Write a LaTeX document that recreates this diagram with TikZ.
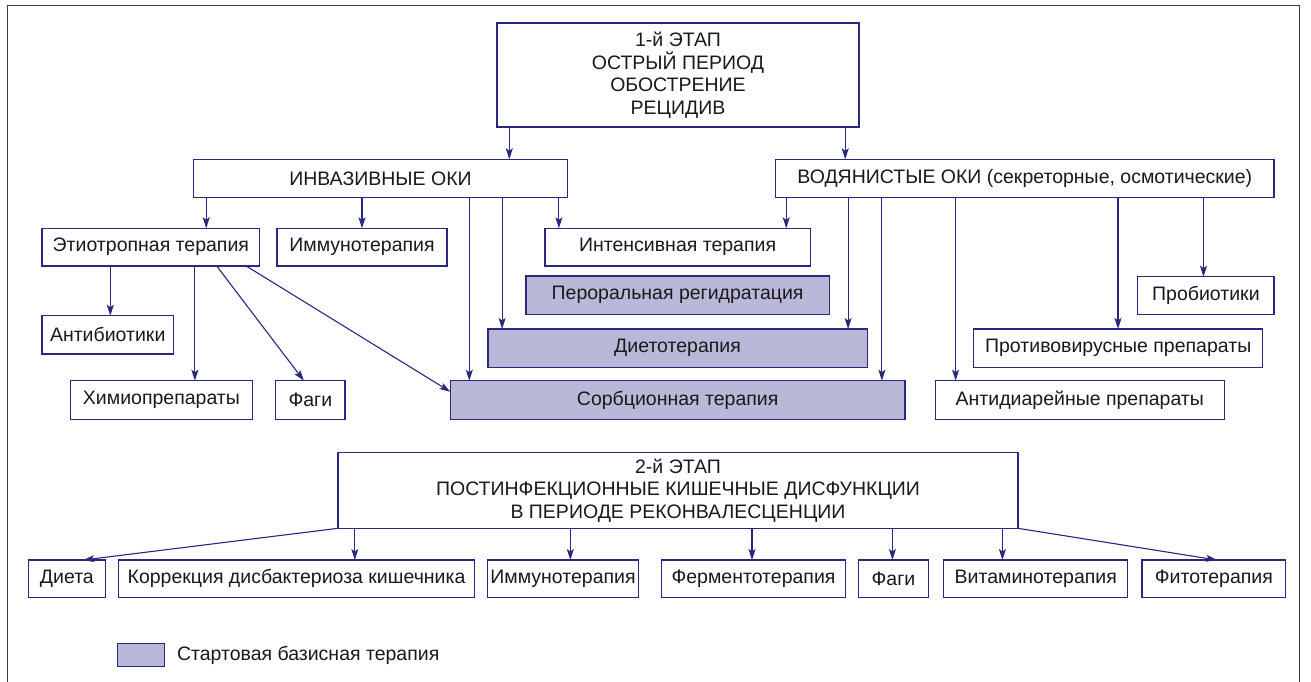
\documentclass[tikz,border=0pt]{standalone}
\usepackage{fontspec}
\setmainfont{Liberation Sans}
\usetikzlibrary{arrows.meta}
\definecolor{navy}{RGB}{40,40,125}
\definecolor{lav}{RGB}{186,184,216}
\definecolor{ink}{RGB}{25,25,25}
\definecolor{framec}{RGB}{60,60,60}
\newcommand{\mybox}[7]{\node[boxst,#6,minimum width={(#4)-(#2)},minimum height={(#5)-(#3)}] (#1) at ({((#2)+(#4))/2},{((#3)+(#5))/2}) {#7};}
\tikzset{
  txt/.style={text=ink,font=\fontsize{19.5}{22.5}\selectfont},
  boxst/.style={draw=navy,line width=1.1pt,inner sep=0pt,outer sep=0pt,txt,fill=white,align=center},
  shaded/.style={fill=lav},
  arr/.style={draw=navy,line width=1.1pt,-{Stealth[length=11pt,width=7pt,inset=2.5pt]}}
}
\begin{document}
\begin{tikzpicture}[x=1pt,y=-1pt]
\clip (0,0) rectangle (1311,681);
\fill[white] (0,0) rectangle (1311,681);
\draw[framec,line width=1pt] (7.5,5.5) rectangle (1299,720);
% boxes
\mybox{st1}{497}{23}{859}{127}{}{1-й ЭТАП\\ОСТРЫЙ ПЕРИОД\\ОБОСТРЕНИЕ\\РЕЦИДИВ}
\mybox{inv}{193.6}{159.3}{567.3}{197.3}{}{ИНВАЗИВНЫЕ ОКИ}
\mybox{vod}{775.6}{159.3}{1274}{197.3}{}{ВОДЯНИСТЫЕ ОКИ (секреторные, осмотические)}
\mybox{etio}{42}{228.3}{259.7}{266}{}{Этиотропная терапия}
\mybox{imma}{277}{228.3}{447}{266}{}{Иммунотерапия}
\mybox{intens}{545}{228.3}{810.2}{266}{}{Интенсивная терапия}
\mybox{peror}{526}{276}{829.2}{314.3}{shaded}{Пероральная регидратация}
\mybox{dieta}{488}{329}{867.1}{367.3}{shaded}{Диетотерапия}
\mybox{sorb}{450.3}{380.7}{905}{419.3}{shaded}{Сорбционная терапия}
\mybox{antib}{42}{315.7}{173.4}{354}{}{Антибиотики}
\mybox{chem}{70.3}{380.7}{252.5}{419.3}{}{Химиопрепараты}
\mybox{fagia}{275.7}{380.7}{345}{419.3}{}{Фаги}
\mybox{antid}{935.4}{380.7}{1224.2}{419.3}{}{Антидиарейные препараты}
\mybox{antiv}{973.8}{329}{1262.6}{367.3}{}{Противовирусные препараты}
\mybox{prob}{1137.8}{276.7}{1274}{314.3}{}{Пробиотики}
\mybox{st2}{338}{452.3}{1018}{528.3}{}{2-й ЭТАП\\ПОСТИНФЕКЦИОННЫЕ КИШЕЧНЫЕ ДИСФУНКЦИИ\\В ПЕРИОДЕ РЕКОНВАЛЕСЦЕНЦИИ}
\mybox{diet}{28.6}{560}{105.2}{597.7}{}{Диета}
\mybox{korr}{118.7}{560}{474.3}{597.7}{}{Коррекция дисбактериоза кишечника}
\mybox{immb}{487.4}{560}{638.5}{597.7}{}{Иммунотерапия}
\mybox{ferm}{661.8}{560}{845.2}{597.7}{}{Ферментотерапия}
\mybox{fagib}{858.3}{560}{928.7}{597.7}{}{Фаги}
\mybox{vit}{943.8}{560}{1127.7}{597.7}{}{Витаминотерапия}
\mybox{fito}{1142}{560}{1285.7}{597.7}{}{Фитотерапия}
\mybox{leg}{117.8}{643.3}{164.1}{666.7}{shaded}{}
\node[anchor=west,txt,inner sep=0pt] (legt) at (176.8,655) {Стартовая базисная терапия};
% x positions
\foreach \n/\x in {a1/509.3,a2/845.2,b1/206.2,b2/362,b3/469.3,b4/502.1,b5/558.9,
  c1/786.2,c2/848.1,c3/881.9,c4/955.6,c5/1118,c6/1203.5,
  e1/110.3,e2/194.9,e3/216.7,e4/246.2,f1/303.9,
  g0/83.3,g1/354.8,g2/570.3,g3/752,g4/892.4,g5/1002.4,g6/1217}
  {\coordinate (\n) at (\x,0);}
\coordinate (sy) at (0,391.7);
% arrows
\draw[arr] (st1.south -| a1) -- (inv.north -| a1);
\draw[arr] (st1.south -| a2) -- (vod.north -| a2);
\draw[arr] (inv.south -| b1) -- (etio.north -| b1);
\draw[arr] (inv.south -| b2) -- (imma.north -| b2);
\draw[arr] (inv.south -| b3) -- (sorb.north -| b3);
\draw[arr] (inv.south -| b4) -- (dieta.north -| b4);
\draw[arr] (inv.south -| b5) -- (intens.north -| b5);
\draw[arr] (vod.south -| c1) -- (intens.north -| c1);
\draw[arr] (vod.south -| c2) -- (dieta.north -| c2);
\draw[arr] (vod.south -| c3) -- (sorb.north -| c3);
\draw[arr] (vod.south -| c4) -- (antid.north -| c4);
\draw[arr] (vod.south -| c5) -- (antiv.north -| c5);
\draw[arr] (vod.south -| c6) -- (prob.north -| c6);
\draw[arr] (etio.south -| e1) -- (antib.north -| e1);
\draw[arr] (etio.south -| e2) -- (chem.north -| e2);
\draw[arr] (etio.south -| e3) -- (fagia.north -| f1);
\draw[arr] (etio.south -| e4) -- (sorb.west |- sy);
\draw[arr] (st2.south west) -- (diet.north -| g0);
\draw[arr] (st2.south -| g1) -- (korr.north -| g1);
\draw[arr] (st2.south -| g2) -- (immb.north -| g2);
\draw[arr] (st2.south -| g3) -- (ferm.north -| g3);
\draw[arr] (st2.south -| g4) -- (fagib.north -| g4);
\draw[arr] (st2.south -| g5) -- (vit.north -| g5);
\draw[arr] (st2.south east) -- (fito.north -| g6);
\end{tikzpicture}
\end{document}
